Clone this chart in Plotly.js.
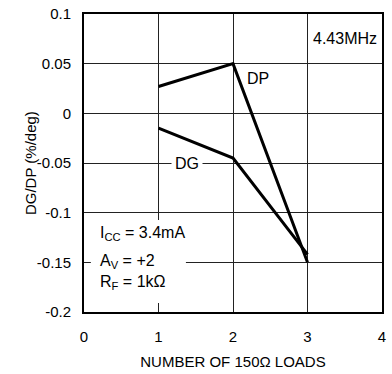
<!DOCTYPE html>
<html><head><meta charset="utf-8">
<script src="https://cdn.plot.ly/plotly-3.0.1.min.js"></script>
<style>html,body{margin:0;padding:0;background:#fff}</style>
</head><body><div id="c" style="width:392px;height:374px"></div>
<script>
var loads = [1, 2, 3];
var dp = [0.027, 0.05, -0.15];
var dg = [-0.015, -0.045, -0.142];
var xTicks = [0, 1, 2, 3, 4];
var yTicks = [-0.2, -0.15, -0.1, -0.05, 0, 0.05, 0.1];
var yTickText = ['-0.2', '-0.15', '-0.1', '-0.05', '0', '0.05', '0.1'];
var F = 'Liberation Sans, Arial, sans-serif';
var traces = [
  {x: loads, y: dp, mode: 'lines', line: {color: '#000', width: 3}, hoverinfo: 'none'},
  {x: loads, y: dg, mode: 'lines', line: {color: '#000', width: 3}, hoverinfo: 'none'}
];
var layout = {
  width: 392, height: 374,
  margin: {l: 84, r: 10, t: 14, b: 62},
  paper_bgcolor: '#fff', plot_bgcolor: '#fff',
  showlegend: false,
  font: {family: F, size: 15, color: '#000'},
  xaxis: {range: [0, 4], tickvals: xTicks, ticks: '', showgrid: true, gridcolor: '#222', gridwidth: 1,
    zeroline: false, showline: true, linecolor: '#000', linewidth: 2, mirror: true,
    tickfont: {family: F, size: 15}, ticklabelstandoff: 10,
    title: {text: 'NUMBER OF 150Ω LOADS', font: {family: F, size: 15}, standoff: 12}},
  yaxis: {range: [-0.2, 0.1], tickvals: yTicks, ticktext: yTickText, ticks: '', showgrid: true, gridcolor: '#222', gridwidth: 1,
    zeroline: false, showline: true, linecolor: '#000', linewidth: 2, mirror: true,
    tickfont: {family: F, size: 15}, ticklabelstandoff: 8},
  shapes: [
    {type: 'rect', xref: 'paper', yref: 'paper', x0: 0.023, x1: 0.342, y0: 0.03, y1: 0.309,
     fillcolor: '#fff', line: {width: 0}, layer: 'above'}
  ],
  annotations: [
    {xref: 'paper', yref: 'paper', x: -0.181, y: 0.5, xanchor: 'center', yanchor: 'middle', textangle: -90,
     text: 'DG/DP (%/deg)', showarrow: false, font: {family: F, size: 15}},
    {x: 2.33, y: 0.0355, text: 'DP', showarrow: false, font: {family: F, size: 16}},
    {x: 1.38, y: -0.05, text: 'DG', showarrow: false, font: {family: F, size: 16}, bgcolor: '#fff', borderpad: 3},
    {x: 3.5, y: 0.075, text: '4.43MHz', showarrow: false, font: {family: F, size: 16}},
    {xref: 'paper', yref: 'paper', x: 0.047, y: 0.262, xanchor: 'left', yanchor: 'middle',
     text: 'I<sub>CC</sub> = 3.4mA', showarrow: false, font: {family: F, size: 16}},
    {xref: 'paper', yref: 'paper', x: 0.047, y: 0.17, xanchor: 'left', yanchor: 'middle',
     text: 'A<sub>V</sub> = +2', showarrow: false, font: {family: F, size: 16}},
    {xref: 'paper', yref: 'paper', x: 0.047, y: 0.099, xanchor: 'left', yanchor: 'middle',
     text: 'R<sub>F</sub> = 1kΩ', showarrow: false, font: {family: F, size: 16}}
  ]
};
Plotly.newPlot('c', traces, layout, {staticPlot: true});
</script></body></html>
